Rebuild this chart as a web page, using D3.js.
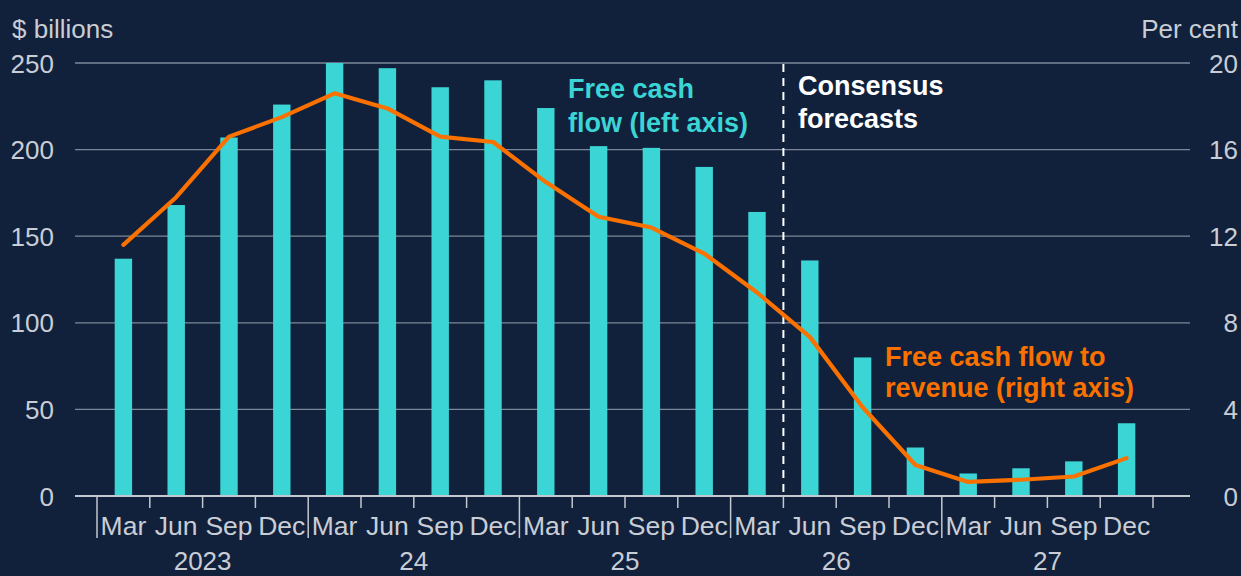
<!DOCTYPE html>
<html>
<head>
<meta charset="utf-8">
<script src="https://cdn.jsdelivr.net/npm/d3@7"></script>
<style>
  html, body { margin: 0; padding: 0; background: #11213b; }
  svg { display: block; }
  text { font-family: "Liberation Sans", Arial, sans-serif; }
</style>
</head>
<body>
<svg id="chart" width="1241" height="576"></svg>
<script>
// Quarterly periods, 2023 to 2027
const months = ["Mar", "Jun", "Sep", "Dec"];
const years = ["2023", "24", "25", "26", "27"];
const periods = years.flatMap(y => months.map(m => `${m} ${y}`));

// Free cash flow, $ billions (left axis)
const freeCashFlow = [137, 168, 207, 226, 250, 247, 236, 240, 224, 202,
                      201, 190, 164, 136, 80, 28, 13, 16, 20, 42];

// Free cash flow to revenue, per cent (right axis)
const fcfToRevenue = [11.6, 13.8, 16.6, 17.5, 18.6, 17.9, 16.6, 16.35, 14.5, 12.9,
                      12.4, 11.2, 9.4, 7.35, 4.1, 1.43, 0.65, 0.75, 0.9, 1.75];

const leftTicks = [0, 50, 100, 150, 200, 250];
const rightTicks = [0, 4, 8, 12, 16, 20];
const firstForecast = "Jun 26";

const colors = {
  bg: "#11213b",
  bar: "#3bd5d6",
  line: "#fb7100",
  grid: "#7d879a",
  axis: "#c3c7cf",
  label: "#c9cdd5",
  white: "#ffffff"
};

const svg = d3.select("#chart");
svg.append("rect").attr("width", 1241).attr("height", 576).attr("fill", colors.bg);

const plot = { left: 75, right: 1190, top: 63, bottom: 496 };

const x = d3.scaleBand()
  .domain(periods)
  .range([97, 1153])
  .paddingInner(0.67)
  .paddingOuter(0.335);

const yLeft = d3.scaleLinear().domain([0, 250]).range([plot.bottom, plot.top]);
const yRight = d3.scaleLinear().domain([0, 20]).range([plot.bottom, plot.top]);

const step = x.step();
const boundary = p => x(p) - (step - x.bandwidth()) / 2;
const center = p => x(p) + x.bandwidth() / 2;

// Horizontal gridlines
svg.append("g")
  .selectAll("line")
  .data(leftTicks.filter(d => d > 0))
  .join("line")
  .attr("x1", plot.left).attr("x2", plot.right)
  .attr("y1", d => yLeft(d)).attr("y2", d => yLeft(d))
  .attr("stroke", colors.grid).attr("stroke-width", 1.3);

// Left axis labels
const leftAxis = svg.append("g")
  .attr("transform", `translate(54,0)`)
  .call(d3.axisLeft(yLeft).tickValues(leftTicks).tickSize(0).tickPadding(0));
leftAxis.select(".domain").remove();
leftAxis.selectAll("text")
  .attr("fill", colors.label)
  .attr("font-size", 26)
  .attr("font-family", "Liberation Sans, Arial, sans-serif")
  .attr("dy", "0.35em");

// Right axis labels
const rightAxis = svg.append("g")
  .attr("transform", `translate(1238,0)`)
  .call(d3.axisLeft(yRight).tickValues(rightTicks).tickSize(0).tickPadding(0));
rightAxis.select(".domain").remove();
rightAxis.selectAll("text")
  .attr("fill", colors.label)
  .attr("font-size", 26)
  .attr("font-family", "Liberation Sans, Arial, sans-serif")
  .attr("dy", "0.35em");

// Axis titles
svg.append("text").attr("x", 12).attr("y", 38)
  .attr("fill", colors.label).attr("font-size", 26).text("$ billions");
svg.append("text").attr("x", 1238).attr("y", 38).attr("text-anchor", "end")
  .attr("fill", colors.label).attr("font-size", 26).text("Per cent");

// Bars
svg.append("g")
  .selectAll("rect")
  .data(periods)
  .join("rect")
  .attr("x", d => x(d))
  .attr("width", x.bandwidth())
  .attr("y", (d, i) => yLeft(freeCashFlow[i]))
  .attr("height", (d, i) => yLeft(0) - yLeft(freeCashFlow[i]))
  .attr("fill", colors.bar);

// Forecast divider
const fx = boundary(firstForecast);
svg.append("line")
  .attr("x1", fx).attr("x2", fx)
  .attr("y1", plot.top + 1).attr("y2", plot.bottom)
  .attr("stroke", colors.white).attr("stroke-width", 2)
  .attr("stroke-dasharray", "8,6");

// Baseline
svg.append("line")
  .attr("x1", plot.left).attr("x2", plot.right)
  .attr("y1", plot.bottom).attr("y2", plot.bottom)
  .attr("stroke", colors.axis).attr("stroke-width", 2);

// Quarter ticks (taller at the start of each year)
const tickPositions = periods.map((p, i) => ({ pos: boundary(p), yearStart: i % 4 === 0 }));
tickPositions.push({ pos: boundary(periods[periods.length - 1]) + step, yearStart: false });
svg.append("g")
  .selectAll("line")
  .data(tickPositions)
  .join("line")
  .attr("x1", d => d.pos).attr("x2", d => d.pos)
  .attr("y1", plot.bottom)
  .attr("y2", d => d.yearStart ? 538 : 508)
  .attr("stroke", colors.axis).attr("stroke-width", 1.5);

// Month labels
svg.append("g")
  .selectAll("text")
  .data(periods)
  .join("text")
  .attr("x", d => center(d))
  .attr("y", 535)
  .attr("text-anchor", "middle")
  .attr("fill", colors.label)
  .attr("font-size", 26.5)
  .text(d => d.split(" ")[0]);

// Year labels
svg.append("g")
  .selectAll("text")
  .data(years)
  .join("text")
  .attr("x", y => boundary(`Mar ${y}`) + step * 2)
  .attr("y", 570)
  .attr("text-anchor", "middle")
  .attr("fill", colors.label)
  .attr("font-size", 26)
  .text(y => y);

// Ratio line
const line = d3.line()
  .x((d, i) => center(periods[i]))
  .y(d => yRight(d));
svg.append("path")
  .datum(fcfToRevenue)
  .attr("d", line)
  .attr("fill", "none")
  .attr("stroke", colors.line)
  .attr("stroke-width", 4.2)
  .attr("stroke-linejoin", "round")
  .attr("stroke-linecap", "round");

// Annotations
function annotate(lines, xPos, yPos, lh, fill) {
  const t = svg.append("text")
    .attr("x", xPos).attr("y", yPos)
    .attr("fill", fill)
    .attr("font-size", 27)
    .attr("font-weight", "bold");
  lines.forEach((s, i) => {
    t.append("tspan").attr("x", xPos).attr("dy", i === 0 ? 0 : lh).text(s);
  });
}
annotate(["Free cash", "flow (left axis)"], 568, 98, 34, colors.bar);
annotate(["Consensus", "forecasts"], 798, 95, 33, colors.white);
annotate(["Free cash flow to", "revenue (right axis)"], 885, 366, 31, colors.line);
</script>
</body>
</html>
